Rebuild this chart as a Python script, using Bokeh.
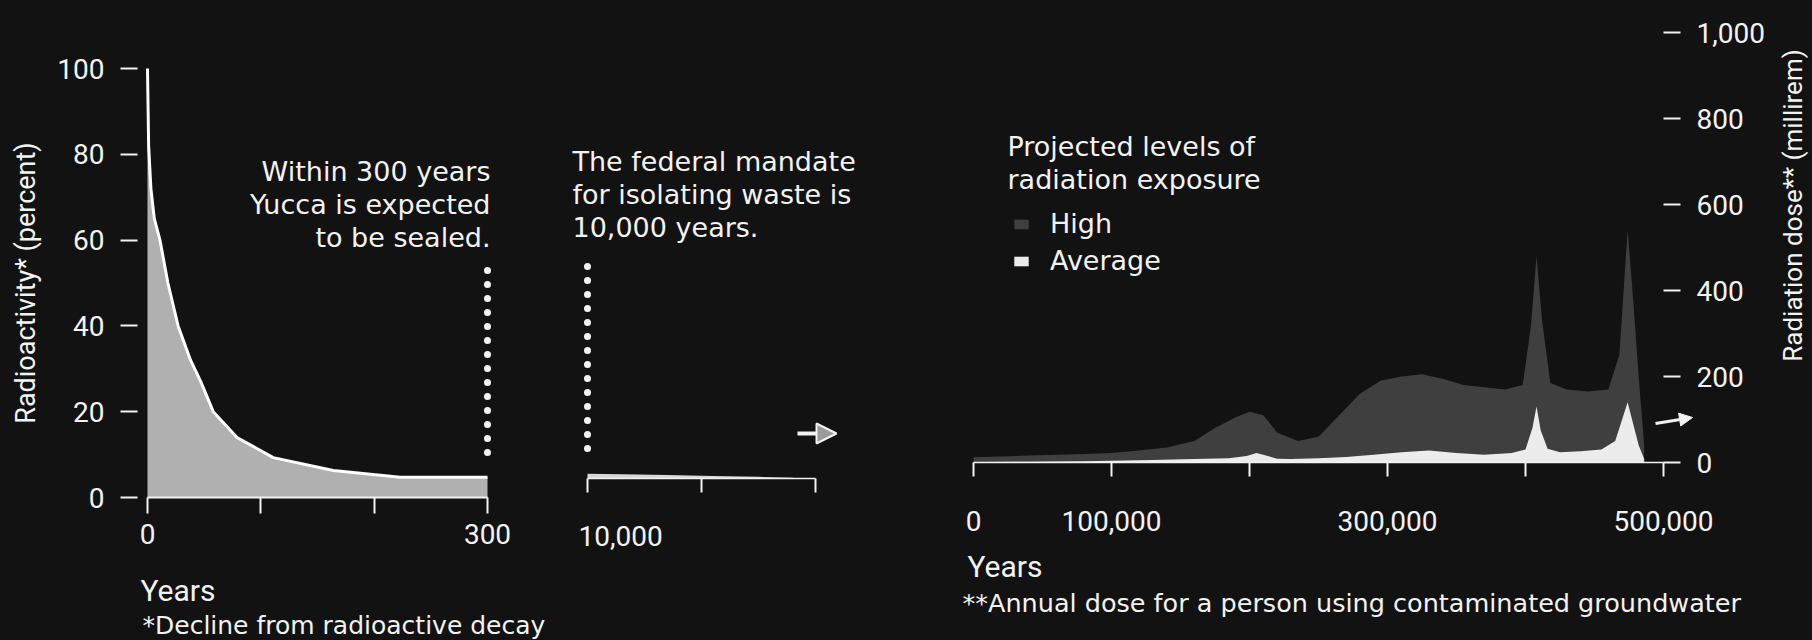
import math
from bokeh.plotting import figure
from bokeh.layouts import row
from bokeh.models import FixedTicker, Label, Arrow, NormalHead, Legend, LegendItem, Range1d
from bokeh.embed import file_html
from bokeh.resources import INLINE

# ---------------- data ----------------
# Left panel: decline from radioactive decay, 0-300 years
decay_years = [0, 1, 3, 6, 11, 18, 27, 38, 47, 58, 79, 111, 164, 223, 300]
decay_pct = [100, 82, 72, 65, 60, 50, 40, 32, 27, 20, 14, 9.3, 6.3, 4.7, 4.7]
decay_ticks = [0, 100, 200, 300]
decay_tick_labels = ["0", "", "", "300"]
pct_ticks = [0, 20, 40, 60, 80, 100]
pct_tick_labels = ["0", "20", "40", "60", "80", "100"]
sealed_year = 300

# Middle panel: the 10,000-year mandate
mandate_year = 10000
mandate_years = [10000, 13000, 17000, 21000, 25000, 28000]
mandate_pct = [1.1, 1.0, 0.8, 0.6, 0.4, 0.15]
mandate_ticks = [10000, 20000, 30000]
mandate_tick_labels = ["10,000", "", ""]

# Right panel: projected radiation dose (millirem), 0-500,000 years
high_years = [0, 20000, 40000, 60000, 80000, 100000, 120000, 140000, 160000, 175000,
              190000, 200000, 210000, 220000, 235000, 250000, 265000, 280000, 295000,
              310000, 325000, 340000, 355000, 370000, 385000, 398000, 404000, 408000,
              412000, 418000, 430000, 445000, 460000, 468000, 474000, 478000, 482000, 486000]
high_mrem = [12, 14, 16, 18, 20, 22, 28, 35, 50, 80,
             105, 118, 110, 70, 50, 60, 110, 160, 190,
             200, 205, 195, 180, 175, 170, 180, 320, 480,
             330, 185, 170, 165, 170, 250, 540, 380, 200, 40]
avg_years = [0, 40000, 80000, 100000, 130000, 160000, 185000, 198000, 205000, 212000,
             220000, 230000, 250000, 270000, 290000, 310000, 330000, 350000, 370000,
             390000, 400000, 405000, 408000, 411000, 416000, 425000, 440000, 455000,
             465000, 470000, 474000, 478000, 482000, 486000]
avg_mrem = [1, 2, 3, 4, 6, 8, 10, 15, 22, 16,
            9, 8, 10, 13, 18, 24, 28, 22, 18,
            22, 30, 80, 130, 75, 32, 24, 26, 30,
            50, 100, 140, 90, 40, 8]
dose_ticks = [0, 100000, 200000, 300000, 400000, 500000]
dose_tick_labels = ["0", "100,000", "", "300,000", "", "500,000"]
mrem_ticks = [0, 200, 400, 600, 800, 1000]
mrem_tick_labels = ["0", "200", "400", "600", "800", "1,000"]

# ---------------- style ----------------
BG = "#121212"
FG = "#f2f2f2"
TICK_FONT = "Roboto"
NOTE_FONT = "DejaVu Sans"
PAGE_H = 640


def make_fig(w, xr, yr, yloc="left"):
    # the plot frame fills the whole canvas; axes are pinned inside it (fixed_location)
    p = figure(width=w, height=PAGE_H, x_range=Range1d(*xr), y_range=Range1d(*yr),
               output_backend="svg", toolbar_location=None, title=None,
               min_border_left=0, min_border_right=0, min_border_top=0, min_border_bottom=0,
               background_fill_color=BG, border_fill_color=BG, outline_line_color=None,
               y_axis_location=yloc, styles={"background-color": BG})
    p.grid.visible = False
    return p


def style_axis(ax, ticks, labels, tick_out, standoff, loc, bounds, line=True):
    ax.ticker = FixedTicker(ticks=ticks)
    ax.major_label_overrides = {t: l for t, l in zip(ticks, labels)}
    ax.major_label_text_font = TICK_FONT
    ax.major_label_text_font_size = "28px"
    ax.major_label_text_color = FG
    ax.major_tick_line_color = FG
    ax.major_tick_line_width = 2
    ax.major_tick_in = 0
    ax.major_tick_out = tick_out
    ax.minor_tick_line_color = None
    ax.major_label_standoff = standoff
    ax.axis_line_color = FG if line else None
    ax.axis_line_width = 2
    ax.fixed_location = loc
    ax.bounds = bounds


def note(p, x, y, text, size="27px", font=NOTE_FONT, align="left", baseline="top", angle=0.0):
    p.add_layout(Label(x=x, y=y, text=text, text_font=font, text_font_size=size,
                       text_color=FG, text_align=align, text_baseline=baseline,
                       text_line_height=1.08, angle=angle))


# ---------------- left panel (page x 0-548) ----------------
A_X0, A_SX, A_Y0, A_SY = 147.0, 340.0 / 300.0, 497.0, 4.29
ax_ = lambda px: (px - A_X0) / A_SX
ay_ = lambda py: (A_Y0 - py) / A_SY

pA = make_fig(548, (ax_(0), ax_(548)), (ay_(PAGE_H), ay_(0)))
pA.varea(x=decay_years, y1=0, y2=decay_pct, fill_color="#b0b0b0")
pA.line(decay_years, decay_pct, line_color="white", line_width=3)
pA.segment(x0=[sealed_year], y0=[ay_(452)], x1=[sealed_year], y1=[ay_(262)],
           line_color=FG, line_width=7, line_dash="0 14", line_cap="round")
style_axis(pA.xaxis[0], decay_ticks, decay_tick_labels, 16, 10, 0, (0, 300))
style_axis(pA.yaxis[0], pct_ticks, pct_tick_labels, 17, 16, ax_(137), (0, 100), line=False)
pA.yaxis[0].axis_label = "Radioactivity* (percent)"
pA.yaxis[0].axis_label_text_font = TICK_FONT
pA.yaxis[0].axis_label_text_font_size = "27px"
pA.yaxis[0].axis_label_text_font_style = "normal"
pA.yaxis[0].axis_label_text_color = FG
pA.yaxis[0].axis_label_standoff = 12
note(pA, ax_(490), ay_(155), "Within 300 years\nYucca is expected\nto be sealed.", align="right")
note(pA, ax_(140), ay_(590), "Years", size="30px", font=TICK_FONT, baseline="middle")
note(pA, ax_(142), ay_(625), "*Decline from radioactive decay", size="25px", baseline="middle")

# ---------------- middle panel (page x 548-930) ----------------
B_X0, B_SX, B_Y0, B_SY = 587.0, 0.0114, 478.0, 4.29
bx_ = lambda px: mandate_year + (px - B_X0) / B_SX
by_ = lambda py: (B_Y0 - py) / B_SY

pB = make_fig(382, (bx_(548), bx_(930)), (by_(PAGE_H), by_(0)))
pB.varea(x=mandate_years, y1=0, y2=mandate_pct, fill_color="#d8d8d8")
pB.segment(x0=[mandate_year], y0=[by_(448)], x1=[mandate_year], y1=[by_(260)],
           line_color=FG, line_width=7, line_dash="0 14", line_cap="round")
style_axis(pB.xaxis[0], mandate_ticks, ["", "", ""], 14, 0, 0, (10000, 30000))
pB.xaxis[0].axis_line_width = 1.5
pB.yaxis.visible = False
note(pB, bx_(578), by_(535), mandate_tick_labels[0], size="28px", font=TICK_FONT, baseline="middle")
note(pB, bx_(572), by_(145), "The federal mandate\nfor isolating waste is\n10,000 years.")
pB.add_layout(Arrow(x_start=bx_(797), y_start=by_(433), x_end=bx_(836), y_end=by_(433),
                    line_color=FG, line_width=4,
                    end=NormalHead(size=20, fill_color="#9a9a9a", line_color=FG, line_width=2)))

# ---------------- right panel (page x 930-1812) ----------------
C_X0, C_SX, C_Y0, C_SY = 973.0, 0.00138, 462.0, 0.43
cx_ = lambda px: (px - C_X0) / C_SX
cy_ = lambda py: (C_Y0 - py) / C_SY

pC = make_fig(882, (cx_(930), cx_(1812)), (cy_(PAGE_H), cy_(0)), yloc="right")
r_high = pC.varea(x=high_years, y1=0, y2=high_mrem, fill_color="#3f3f3f")
r_avg = pC.varea(x=avg_years, y1=0, y2=avg_mrem, fill_color="#ececec")
style_axis(pC.xaxis[0], dose_ticks, dose_tick_labels, 14, 34, 0, (0, 500000))
pC.xaxis[0].axis_line_width = 1.5
style_axis(pC.yaxis[0], mrem_ticks, mrem_tick_labels, 17, 16, 500000, (0, 1000), line=False)
note(pC, cx_(1007), cy_(130), "Projected levels of\nradiation exposure")
note(pC, cx_(1792), cy_(205), "Radiation dose** (millirem)", size="26px", font=TICK_FONT,
     align="center", baseline="middle", angle=math.pi / 2)
note(pC, cx_(967), cy_(566), "Years", size="30px", font=TICK_FONT, baseline="middle")
note(pC, cx_(962), cy_(602), "**Annual dose for a person using contaminated groundwater",
     size="25.5px", baseline="middle")
pC.add_layout(Arrow(x_start=cx_(1655), y_start=cy_(423), x_end=cx_(1692), y_end=cy_(417),
                    line_color=FG, line_width=3,
                    end=NormalHead(size=13, fill_color=FG, line_color=FG)))

legend = Legend(items=[LegendItem(label="High", renderers=[r_high]),
                       LegendItem(label="Average", renderers=[r_avg])],
                location=(1012 - 930, PAGE_H - 276), orientation="vertical",
                background_fill_alpha=0, border_line_color=None, padding=0, margin=0,
                spacing=6, glyph_width=18, glyph_height=12, label_standoff=20,
                label_text_color=FG, label_text_font=NOTE_FONT, label_text_font_size="27px",
                label_height=30)
pC.add_layout(legend)

layout = row(pA, pB, pC, styles={"background-color": BG})
open("out.html", "w").write(file_html(layout, INLINE))
